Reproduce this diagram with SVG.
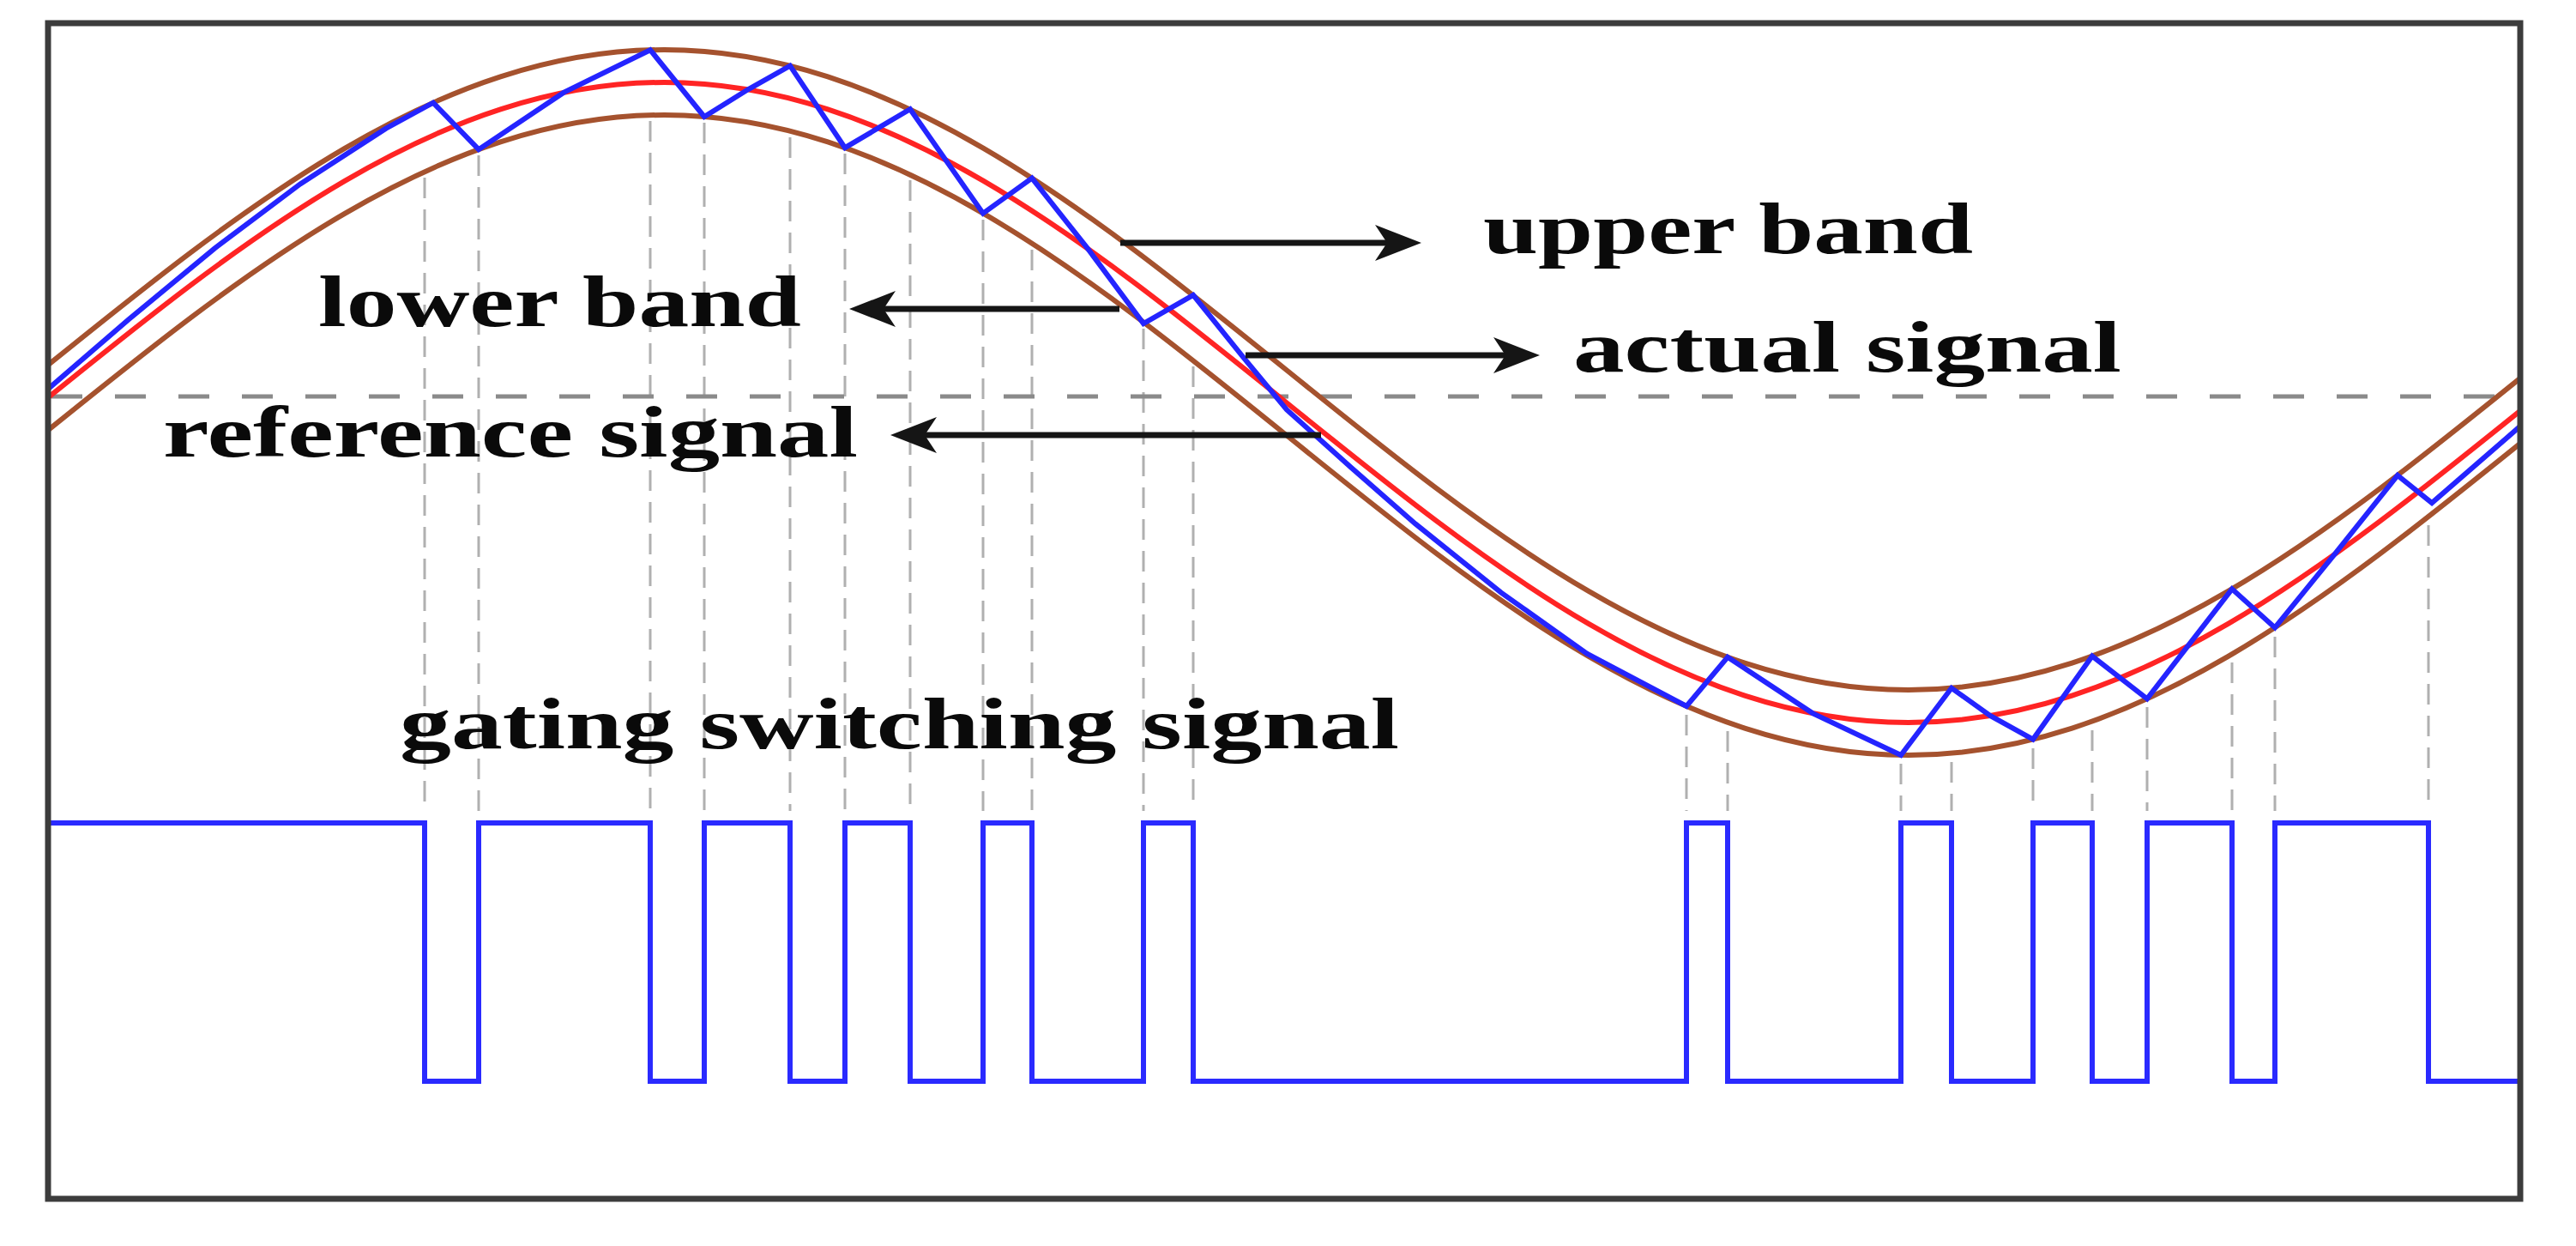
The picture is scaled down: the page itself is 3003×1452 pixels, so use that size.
<svg xmlns="http://www.w3.org/2000/svg" xmlns:xlink="http://www.w3.org/1999/xlink" width="3003" height="1452" viewBox="0 0 3003 1452">
<style>
.txt{font-family:"Liberation Serif","Times New Roman",serif;font-weight:bold;font-size:84px;fill:#0a0a0a}
.brown{fill:none;stroke:#a5522e;stroke-width:6}
.red{fill:none;stroke:#ff2424;stroke-width:6}
.blue{fill:none;stroke:#2424ff;stroke-width:6;stroke-linejoin:miter}
.pulse{fill:none;stroke:#2a2aff;stroke-width:6}
.vdash{stroke:#b0b0b0;stroke-width:3;stroke-dasharray:24 13}
.mid{stroke:#8a8a8a;stroke-width:5;stroke-dasharray:36 38}
.arr{stroke:#151515;stroke-width:7;marker-end:url(#ah)}
</style>
<defs>
<path id="sine" d="M49,469 C285.53,277.91 511.77,96 774.25,96 C1036.73,96 1262.97,277.91 1499.5,469 C1736.03,660.09 1962.27,842 2224.75,842 C2487.23,842 2713.47,660.09 2950,469"/>
<clipPath id="frameclip"><rect x="59" y="30" width="2876" height="1364"/></clipPath>
<marker id="ah" markerUnits="userSpaceOnUse" markerWidth="56" markerHeight="44" viewBox="0 0 56 44" refX="16" refY="22" orient="auto">
<path d="M0,1 L54,22 L0,43 L14,22 Z" fill="#151515"/>
</marker>
</defs>
<rect x="0" y="0" width="3003" height="1452" fill="#ffffff"/>

<g id="switch-guides">
<line class="vdash" x1="495" y1="207" x2="495" y2="945"/>
<line class="vdash" x1="558" y1="181" x2="558" y2="945"/>
<line class="vdash" x1="758" y1="141" x2="758" y2="945"/>
<line class="vdash" x1="821" y1="143" x2="821" y2="945"/>
<line class="vdash" x1="921" y1="160" x2="921" y2="945"/>
<line class="vdash" x1="985" y1="179" x2="985" y2="945"/>
<line class="vdash" x1="1061" y1="210" x2="1061" y2="945"/>
<line class="vdash" x1="1146" y1="256" x2="1146" y2="945"/>
<line class="vdash" x1="1203" y1="291" x2="1203" y2="945"/>
<line class="vdash" x1="1333" y1="383" x2="1333" y2="945"/>
<line class="vdash" x1="1391" y1="427" x2="1391" y2="945"/>
<line class="vdash" x1="1966" y1="833" x2="1966" y2="945"/>
<line class="vdash" x1="2014" y1="852" x2="2014" y2="945"/>
<line class="vdash" x1="2216" y1="890" x2="2216" y2="945"/>
<line class="vdash" x1="2275" y1="888" x2="2275" y2="945"/>
<line class="vdash" x1="2370" y1="872" x2="2370" y2="945"/>
<line class="vdash" x1="2439" y1="851" x2="2439" y2="945"/>
<line class="vdash" x1="2503" y1="824" x2="2503" y2="945"/>
<line class="vdash" x1="2602" y1="772" x2="2602" y2="945"/>
<line class="vdash" x1="2652" y1="742" x2="2652" y2="945"/>
<line class="vdash" x1="2831" y1="612" x2="2831" y2="945"/>
</g>

<g id="reference-level">
<line class="mid" x1="60" y1="462" x2="2934" y2="462"/>
</g>

<g id="hysteresis-band" clip-path="url(#frameclip)">
<use xlink:href="#sine" href="#sine" class="brown" transform="translate(0,-38)"/>
<use xlink:href="#sine" href="#sine" class="brown" transform="translate(0,38)"/>
</g>

<g id="reference-signal" clip-path="url(#frameclip)">
<use xlink:href="#sine" href="#sine" class="red"/>
</g>

<g id="actual-signal" clip-path="url(#frameclip)">
<path class="blue" d="M56,453.3 L150,372.2 L250,289.6 L350,214.4 L450,149.7 L505,119.7 L558,174.2 L657,107.9 L758,58.2 L821,136 L872,104.3 L921,76.7 L985,172.2 L1061,127.2 L1146,248.6 L1203,207.6 L1268,289.7 L1333,377 L1391,343.8 L1450,417.1 L1500,477.4 L1575,544.7 L1650,610.4 L1750,690.6 L1850,761.7 L1966,822.9 L2014,765.8 L2113,831.1 L2216,880 L2275,801.8 L2320,834 L2370,861.6 L2439,764.6 L2503,814.3 L2602,686.3 L2652,731.5 L2722,645.4 L2795,553.9 L2835,586 L2938,496.7"/>
</g>

<g id="gating-signal">
<path class="pulse" d="M59,959 H495 V1260 H558 V959 H758 V1260 H821 V959 H921 V1260 H985 V959 H1061 V1260 H1146 V959 H1203 V1260 H1333 V959 H1391 V1260 H1966 V959 H2014 V1260 H2216 V959 H2275 V1260 H2370 V959 H2439 V1260 H2503 V959 H2602 V1260 H2652 V959 H2831 V1260 H2938"/>
</g>

<g id="connectors">
<line class="arr" x1="1306" y1="283" x2="1619" y2="283"/>
<line class="arr" x1="1305" y1="360" x2="1028" y2="360"/>
<line class="arr" x1="1452" y1="414" x2="1757" y2="414"/>
<line class="arr" x1="1540" y1="507" x2="1076" y2="507"/>
</g>

<g id="label-upper-band"><text class="txt" x="1729" y="295" textLength="571" lengthAdjust="spacingAndGlyphs">upper band</text></g>
<g id="label-actual-signal"><text class="txt" x="1834" y="433" textLength="639" lengthAdjust="spacingAndGlyphs">actual signal</text></g>
<g id="label-lower-band"><text class="txt" x="371" y="380" textLength="563" lengthAdjust="spacingAndGlyphs">lower band</text></g>
<g id="label-reference-signal"><text class="txt" x="190" y="532" textLength="810" lengthAdjust="spacingAndGlyphs">reference signal</text></g>
<g id="label-gating"><text class="txt" x="466" y="872" textLength="1165" lengthAdjust="spacingAndGlyphs">gating switching signal</text></g>

<g id="frame">
<rect x="56" y="27" width="2882" height="1370" fill="none" stroke="#3c3c3c" stroke-width="7"/>
</g>
</svg>
